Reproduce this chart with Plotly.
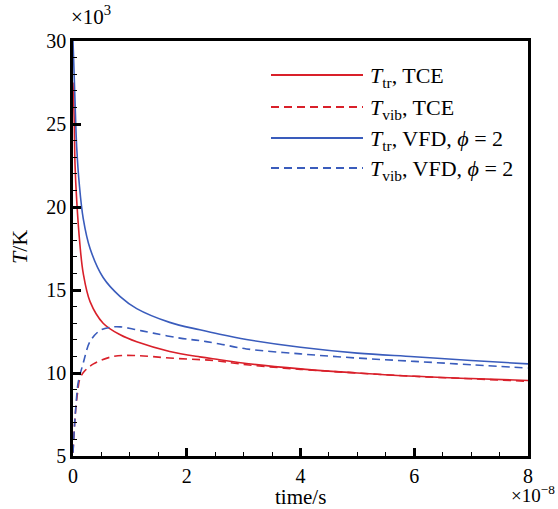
import plotly.graph_objects as go

# time in units of 1e-8 s, temperature in units of 1e3 K
t_tr_tce = [0.0, 0.02, 0.035, 0.065, 0.12, 0.18, 0.30, 0.53, 0.83, 1.12, 1.7, 2.23, 2.58, 3.05, 4.0, 5.0, 6.0, 7.0, 8.0]
T_tr_tce = [27.5, 25.4, 22.6, 20.4, 17.8, 16.0, 14.3, 13.0, 12.3, 11.88, 11.3, 10.97, 10.8, 10.57, 10.25, 10.0, 9.8, 9.67, 9.55]

t_vib_tce = [0.0, 0.04, 0.08, 0.12, 0.2, 0.36, 0.71, 1.12, 1.7, 2.47, 3.05, 4.0, 5.0, 6.0, 7.0, 8.0]
T_vib_tce = [5.2, 7.5, 8.8, 9.65, 10.1, 10.55, 11.0, 11.05, 10.9, 10.75, 10.5, 10.22, 10.0, 9.8, 9.65, 9.5]

t_tr_vfd = [0.0, 0.015, 0.035, 0.065, 0.11, 0.18, 0.30, 0.53, 0.83, 1.12, 1.7, 2.23, 2.58, 3.05, 4.0, 5.0, 6.0, 7.0, 8.0]
T_tr_vfd = [30.0, 28.5, 26.4, 23.6, 21.4, 19.3, 17.5, 15.75, 14.6, 13.88, 13.05, 12.6, 12.33, 12.02, 11.55, 11.2, 10.98, 10.75, 10.55]

t_vib_vfd = [0.0, 0.03, 0.06, 0.09, 0.18, 0.30, 0.47, 0.65, 0.83, 1.12, 1.41, 1.88, 2.23, 2.58, 3.05, 4.0, 5.0, 6.0, 7.0, 8.0]
T_vib_vfd = [5.2, 7.0, 8.4, 9.4, 10.6, 11.9, 12.55, 12.75, 12.78, 12.6, 12.4, 12.1, 11.95, 11.75, 11.45, 11.15, 10.9, 10.7, 10.5, 10.3]

RED = "#d9202a"
BLUE = "#3a5cbc"
FONT = "Liberation Serif"

legend_labels = [
    "<i>T</i><sub>tr</sub>, TCE",
    "<i>T</i><sub>vib</sub>, TCE",
    "<i>T</i><sub>tr</sub>, VFD, <i>ϕ</i> = 2",
    "<i>T</i><sub>vib</sub>, VFD, <i>ϕ</i> = 2",
]
legend_colors = [RED, RED, BLUE, BLUE]
DASH = "8px,5px"
legend_dash = ["solid", DASH, "solid", DASH]

fig = go.Figure()
series = [
    (t_tr_tce, T_tr_tce, RED, "solid"),
    (t_vib_tce, T_vib_tce, RED, DASH),
    (t_tr_vfd, T_tr_vfd, BLUE, "solid"),
    (t_vib_vfd, T_vib_vfd, BLUE, DASH),
]
for (x, y, c, d), name in zip(series, legend_labels):
    fig.add_trace(go.Scatter(x=x, y=y, mode="lines", name=name,
                             line=dict(color=c, width=1.6, dash=d, shape="spline", smoothing=1.0),
                             showlegend=False))

# manual legend (paper coordinates)
W, H = 558, 509
L, R, T, B = 73, 30, 41, 53
pw, ph = W - L - R, H - T - B
def px(xp):
    return (xp - L) / pw
def py(yp):
    return 1 - (yp - T) / ph

rows = [75, 107, 138, 168]
for yrow, lab, c, d in zip(rows, legend_labels, legend_colors, legend_dash):
    fig.add_shape(type="line", xref="paper", yref="paper",
                  x0=px(271), x1=px(363), y0=py(yrow), y1=py(yrow),
                  line=dict(color=c, width=1.8, dash=d))
    fig.add_annotation(xref="paper", yref="paper", x=px(368), y=py(yrow + 2),
                       text=lab, showarrow=False, xanchor="left", yanchor="middle",
                       font=dict(family=FONT, size=22, color="black"))

fig.add_annotation(xref="paper", yref="paper", x=px(69), y=py(16), text="×10<sup>3</sup>",
                   showarrow=False, xanchor="left", yanchor="middle",
                   font=dict(family=FONT, size=21, color="black"))
fig.add_annotation(xref="paper", yref="paper", x=px(557), y=py(494), text="×10<sup>−8</sup>",
                   showarrow=False, xanchor="right", yanchor="middle",
                   font=dict(family=FONT, size=19, color="black"))
fig.add_annotation(xref="paper", yref="paper", x=px(300), y=py(497), text="time/s",
                   showarrow=False, xanchor="center", yanchor="middle",
                   font=dict(family=FONT, size=21, color="black"))
fig.add_annotation(xref="paper", yref="paper", x=px(19), y=py(247), text="<i>T</i>/K",
                   showarrow=False, xanchor="center", yanchor="middle", textangle=-90,
                   font=dict(family=FONT, size=22, color="black"))

axis_common = dict(showgrid=False, zeroline=False, showline=True, linecolor="black",
                   linewidth=2.5, mirror=True, ticks="inside", tickcolor="black",
                   ticklen=8, tickwidth=2.5,
                   tickfont=dict(family=FONT, size=20, color="black"))
fig.update_xaxes(range=[0, 8], tickvals=[0, 2, 4, 6, 8], ticktext=["0", "2", "4", "6", "8"],
                 minor=dict(ticks="inside", dtick=0.5, ticklen=4, tickwidth=1, tickcolor="black"),
                 **axis_common)
fig.update_yaxes(range=[5, 30], tickvals=[5, 10, 15, 20, 25, 30],
                 minor=dict(ticks="inside", dtick=1, ticklen=4, tickwidth=1, tickcolor="black"),
                 **axis_common)

fig.update_layout(width=W, height=H, margin=dict(l=L, r=R, t=T, b=B),
                  paper_bgcolor="white", plot_bgcolor="white", showlegend=False,
                  font=dict(family=FONT, color="black"))
fig.write_html("out.html")
